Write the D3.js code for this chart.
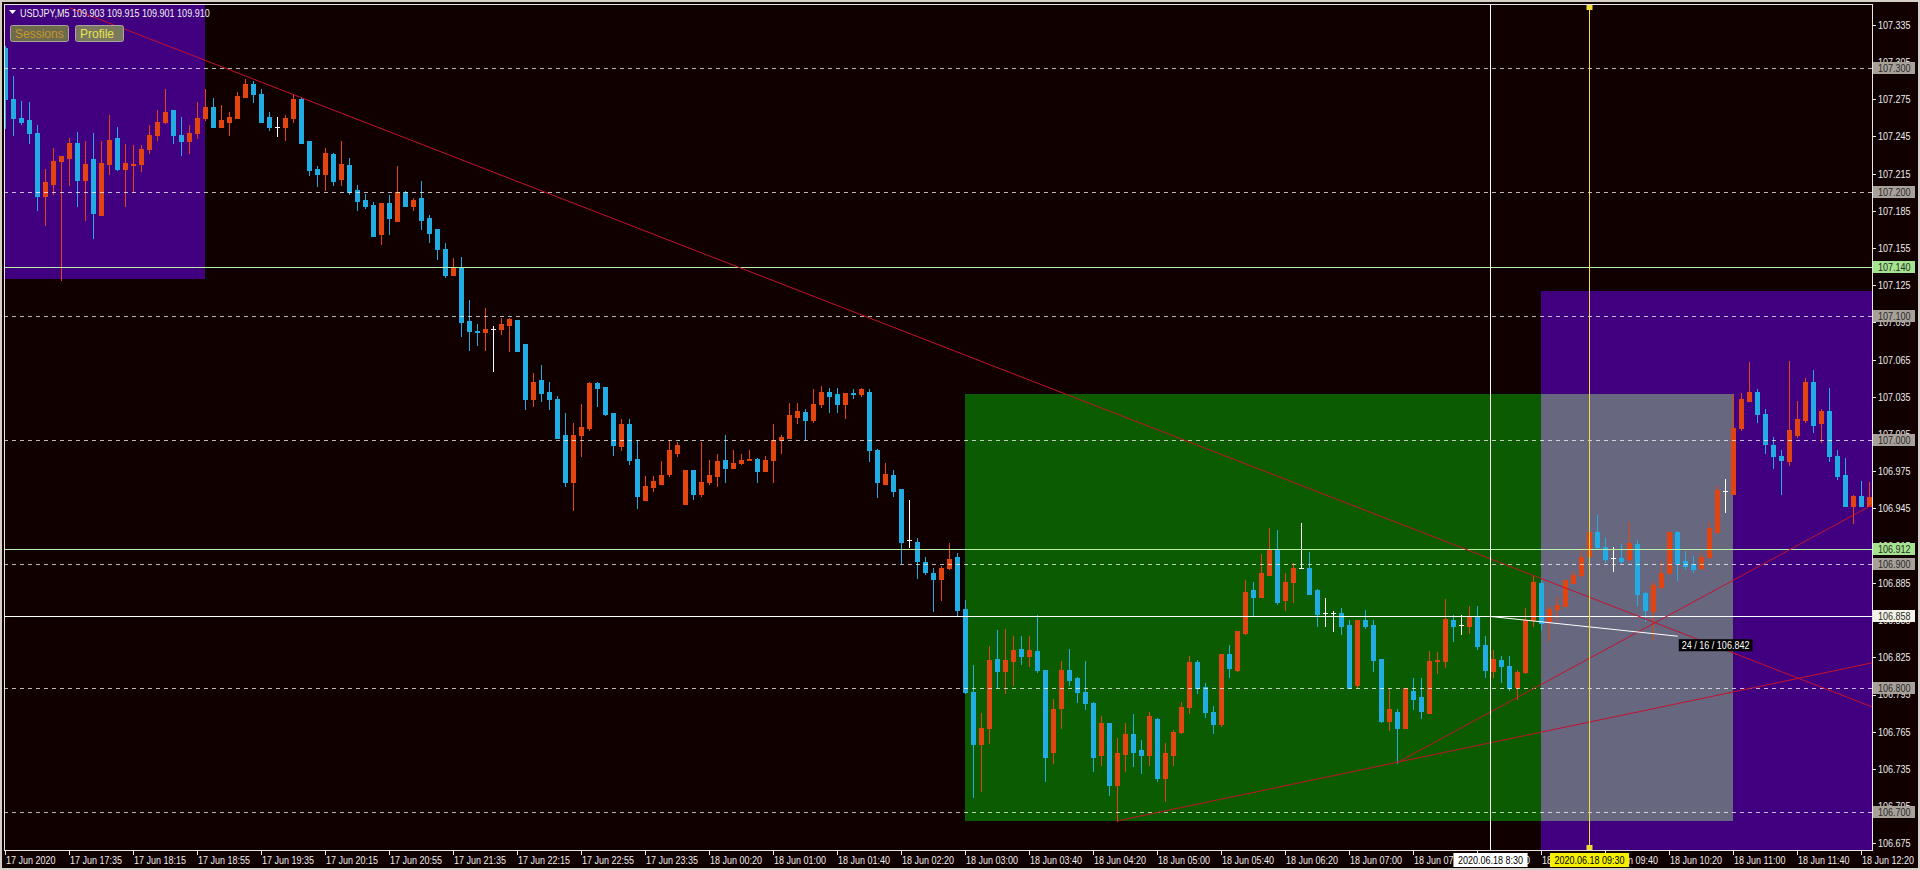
<!DOCTYPE html>
<html><head><meta charset="utf-8">
<script src="https://cdn.jsdelivr.net/npm/d3@7"></script>
<style>
html,body{margin:0;padding:0;background:#d4d0c8;overflow:hidden}
svg{display:block}
text{font-family:"Liberation Sans",Arial,sans-serif;font-size:11px}
</style></head><body><svg id="c" width="1920" height="870"></svg>
<script>
// ---- data (M5 bars, index 0 = 17 Jun 16:55) ----
const opens=[107.316,107.275,107.260,107.258,107.248,107.197,107.207,107.225,107.228,107.240,
107.210,107.227,107.182,107.223,107.244,107.219,107.222,107.223,107.235,107.246,
107.257,107.266,107.246,107.241,107.248,107.260,107.269,107.253,107.257,107.260,
107.277,107.287,107.279,107.261,107.253,107.253,107.260,107.275,107.241,107.219,
107.215,107.231,107.211,107.222,107.202,107.194,107.190,107.166,107.191,107.177,
107.200,107.189,107.195,107.179,107.170,107.154,107.133,107.140,107.096,107.088,
107.087,107.090,107.090,107.093,107.097,107.078,107.033,107.049,107.039,107.033,
107.004,106.966,107.004,107.010,107.046,107.043,107.022,106.995,107.013,106.985,
106.952,106.962,106.965,106.973,106.990,106.949,106.976,106.957,106.966,106.971,
106.984,106.978,106.982,106.984,106.985,106.975,106.984,107.000,107.002,107.019,
107.023,107.016,107.029,107.039,107.037,107.029,107.038,107.037,107.039,106.992,
106.965,106.972,106.961,106.920,106.918,106.902,106.893,106.888,106.897,106.906,
106.864,106.797,106.755,106.768,106.824,106.814,106.822,106.832,106.826,106.830,
106.815,106.749,106.784,106.815,106.808,106.797,106.788,106.746,106.772,106.722,
106.747,106.763,106.750,106.746,106.775,106.728,106.746,106.765,106.785,106.821,
106.801,106.781,106.771,106.828,106.815,106.845,106.879,106.874,106.891,106.912,
106.871,106.886,106.897,106.897,106.879,106.861,106.861,106.861,106.851,106.803,
106.855,106.851,106.824,106.774,106.781,106.768,106.798,106.793,106.780,106.822,
106.822,106.855,106.851,106.850,106.858,106.835,106.814,106.823,106.818,106.801,
106.813,106.855,106.885,106.854,106.864,106.866,106.885,106.891,106.907,106.926,
106.914,106.905,106.905,106.904,106.916,106.877,106.862,106.882,106.893,106.926,
106.903,106.900,106.897,106.906,106.926,106.959,106.957,107.010,107.032,107.039,
107.021,106.996,106.987,106.983,107.004,107.016,107.047,107.014,107.024,106.987,
106.972,106.947,106.955,106.947];
const highs=[107.318,107.294,107.274,107.273,107.254,107.219,107.236,107.229,107.244,107.249,
107.241,107.248,107.241,107.262,107.253,107.239,107.238,107.238,107.254,107.266,
107.283,107.266,107.261,107.254,107.273,107.283,107.276,107.270,107.265,107.281,
107.291,107.290,107.283,107.265,107.261,107.262,107.279,107.277,107.241,107.221,
107.236,107.232,107.241,107.228,107.206,107.199,107.192,107.191,107.198,107.221,
107.201,107.195,107.209,107.182,107.170,107.159,107.147,107.148,107.113,107.094,
107.107,107.092,107.099,107.099,107.097,107.078,107.054,107.061,107.047,107.036,
107.022,107.014,107.029,107.047,107.047,107.043,107.022,107.017,107.017,107.000,
106.971,106.971,106.983,107.000,106.999,106.976,106.976,106.999,106.984,106.989,
107.004,106.992,106.989,106.992,106.986,106.987,107.013,107.004,107.030,107.030,
107.025,107.041,107.044,107.042,107.042,107.038,107.041,107.042,107.041,106.993,
106.982,106.976,106.961,106.952,106.921,106.906,106.897,106.899,106.917,106.909,
106.871,106.819,106.780,106.834,106.847,106.848,106.842,106.842,106.842,106.859,
106.815,106.791,106.822,106.832,106.809,106.822,106.789,106.778,106.772,106.760,
106.772,106.779,106.758,106.781,106.776,106.756,106.766,106.789,106.826,106.823,
106.804,106.786,106.828,106.835,106.846,106.887,106.886,106.908,106.929,106.928,
106.893,106.901,106.933,106.910,106.880,106.873,106.862,106.865,106.855,106.855,
106.863,106.855,106.824,106.800,106.783,106.800,106.808,106.808,106.830,106.829,
106.872,106.859,106.859,106.866,106.866,106.842,106.831,106.826,106.826,106.815,
106.865,106.891,106.887,106.866,106.874,106.887,106.895,106.913,106.926,106.940,
106.921,106.914,106.916,106.934,106.920,106.878,106.886,106.902,106.926,106.927,
106.911,106.907,106.909,106.934,106.963,106.969,107.037,107.038,107.063,107.041,
107.025,107.003,106.992,107.064,107.032,107.050,107.057,107.025,107.042,106.992,
106.986,106.956,106.967,106.966];
const lows=[107.252,107.246,107.255,107.240,107.186,107.174,107.199,107.129,107.206,107.189,
107.178,107.163,107.182,107.215,107.218,107.189,107.200,107.217,107.232,107.242,
107.256,107.240,107.230,107.232,107.244,107.258,107.253,107.253,107.246,107.260,
107.277,107.273,107.257,107.250,107.245,107.242,107.257,107.240,107.214,107.205,
107.202,107.206,107.206,107.199,107.186,107.187,107.165,107.158,107.166,107.177,
107.189,107.186,107.170,107.160,107.146,107.132,107.133,107.084,107.073,107.077,
107.073,107.056,107.086,107.072,107.072,107.025,107.028,107.032,107.025,107.002,
106.963,106.944,106.987,107.008,107.028,107.020,106.988,106.992,106.981,106.945,
106.952,106.959,106.965,106.971,106.987,106.949,106.953,106.955,106.965,106.963,
106.966,106.978,106.981,106.984,106.966,106.975,106.966,106.990,107.002,107.014,
107.000,107.015,107.027,107.023,107.023,107.018,107.034,107.036,106.983,106.954,
106.965,106.955,106.901,106.914,106.889,106.892,106.862,106.871,106.896,106.858,
106.796,106.712,106.717,106.756,106.801,106.796,106.803,106.820,106.818,106.813,
106.725,106.740,106.768,106.803,106.789,106.783,106.733,106.738,106.714,106.693,
106.733,106.737,106.732,106.738,106.725,106.709,106.738,106.764,106.780,106.796,
106.777,106.764,106.770,106.809,106.814,106.844,106.859,106.874,106.891,106.868,
106.863,106.870,106.897,106.876,106.850,106.850,106.846,106.844,106.800,106.801,
106.849,106.814,106.773,106.766,106.740,106.768,106.783,106.776,106.780,106.812,
106.817,106.838,106.844,106.845,106.832,106.809,106.809,106.805,106.799,106.791,
106.812,106.850,106.848,106.839,106.855,106.866,106.885,106.890,106.907,106.913,
106.902,106.895,106.901,106.903,106.867,106.854,106.840,106.881,106.893,106.887,
106.896,106.894,106.896,106.905,106.926,106.942,106.957,107.008,107.032,107.015,
106.990,106.978,106.957,106.980,107.003,107.015,107.007,106.999,106.983,106.969,
106.947,106.933,106.947,106.947];
const closes=[107.275,107.260,107.257,107.248,107.197,107.208,107.225,107.229,107.240,107.210,
107.223,107.183,107.224,107.242,107.219,107.224,107.223,107.235,107.246,107.257,
107.265,107.246,107.241,107.248,107.260,107.269,107.253,107.258,107.261,107.278,
107.287,107.279,107.257,107.253,107.253,107.260,107.275,107.240,107.218,107.215,
107.232,107.209,107.223,107.200,107.193,107.189,107.165,107.191,107.179,107.200,
107.189,107.194,107.178,107.167,107.154,107.133,107.140,107.095,107.088,107.087,
107.090,107.090,107.094,107.098,107.072,107.033,107.047,107.038,107.033,107.002,
106.966,107.004,107.011,107.046,107.042,107.021,106.996,107.013,106.984,106.955,
106.963,106.967,106.972,106.992,106.996,106.976,106.957,106.966,106.972,106.983,
106.978,106.982,106.984,106.985,106.975,106.984,107.000,107.003,107.020,107.024,
107.016,107.029,107.039,107.036,107.029,107.038,107.037,107.041,106.992,106.966,
106.973,106.959,106.918,106.920,106.903,106.894,106.888,106.897,106.904,106.863,
106.797,106.755,106.768,106.823,106.814,106.823,106.831,106.826,106.831,106.815,
106.745,106.783,106.815,106.807,106.797,106.788,106.745,106.772,106.722,106.748,
106.763,106.749,106.746,106.778,106.728,106.748,106.765,106.785,106.821,106.800,
106.781,106.771,106.828,106.816,106.846,106.878,106.874,106.893,106.912,106.870,
106.886,106.897,106.897,106.876,106.860,106.861,106.861,106.850,106.800,106.855,
106.850,106.823,106.774,106.783,106.768,106.800,106.791,106.782,106.822,106.823,
106.856,106.850,106.851,106.858,106.834,106.815,106.824,106.818,106.800,106.813,
106.855,106.886,106.853,106.864,106.867,106.887,106.891,106.906,106.926,106.914,
106.904,106.905,106.903,106.917,106.876,106.863,106.883,106.893,106.926,106.901,
106.899,106.896,106.906,106.929,106.960,106.959,107.010,107.033,107.039,107.021,
106.997,106.987,106.984,107.008,107.017,107.047,107.012,107.024,106.987,106.971,
106.947,106.955,106.947,106.954];

const timeLabels=["17 Jun 2020","17 Jun 17:35","17 Jun 18:15","17 Jun 18:55","17 Jun 19:35","17 Jun 20:15",
"17 Jun 20:55","17 Jun 21:35","17 Jun 22:15","17 Jun 22:55","17 Jun 23:35","18 Jun 00:20","18 Jun 01:00",
"18 Jun 01:40","18 Jun 02:20","18 Jun 03:00","18 Jun 03:40","18 Jun 04:20","18 Jun 05:00","18 Jun 05:40",
"18 Jun 06:20","18 Jun 07:00","18 Jun 07:40","18 Jun 08:20","18 Jun 09:00","18 Jun 09:40","18 Jun 10:20",
"18 Jun 11:00","18 Jun 11:40","18 Jun 12:20"];
const barsPerLabel=8;
const priceTicks=[107.335,107.305,107.275,107.245,107.215,107.185,107.155,107.125,107.095,107.065,107.035,
107.005,106.975,106.945,106.915,106.885,106.855,106.825,106.795,106.765,106.735,106.705,106.675];
const dashedLevels=[107.300,107.200,107.100,107.000,106.900,106.800,106.700];
const greenLevels=[107.140,106.912];
const whiteLevels=[106.858];
// rectangles: [startBar, endBar, topPrice, bottomPrice]
const sessionRects=[[-2,25,107.40,107.130],[192,240,107.120,106.60]];
const greenRect=[120,192,107.037,106.693];
const greyRect=[192,216,107.037,106.693];
// trend lines: [bar1, price1, bar2, price2]
const trendLines=[[8,107.349,233,106.786],[139,106.693,233,106.820],[174,106.740,233,106.9465]];
const measureLine=[185.6,106.858,209.1,106.842];
const measureText="24 / 16 / 106.842";
const crossBar=185.6, crossLabel="2020.06.18 8:30";
const markBar=198, markLabel="2020.06.18 09:30";
const header="USDJPY,M5  109.903 109.915 109.901 109.910";

// ---- drawing ----
const svg=d3.select('#c');
const L=4,R=1872,T=4,B=850;
const SX=0.82; // horizontal squeeze to mimic the narrow terminal font
const x=d3.scaleLinear().domain([0,233]).range([5,1869]);
const y=d3.scaleLinear().domain([106.6696,107.35185]).range([B,T]);
const BG="#110000", BULL="#e2450f", BEAR="#21ade3", DOJI="#ffffff", RED="#c4122c";
const tr=(a,b)=>`translate(${a},${b}) scale(${SX},1)`;

svg.append('rect').attr('width',1920).attr('height',870).attr('fill','#d4d0c8');
svg.append('rect').attr('x',2).attr('y',2).attr('width',1916).attr('height',866).attr('fill',BG);

svg.append('clipPath').attr('id','pc').append('rect').attr('x',L).attr('y',T).attr('width',R-L).attr('height',B-T);
const plot=svg.append('g').attr('clip-path','url(#pc)');

function rect(g,r,fill){
  const x0=x(r[0]),x1=x(r[1]),y0=y(r[2]),y1=y(r[3]);
  g.append('rect').attr('x',Math.round(x0)).attr('y',Math.round(y0))
   .attr('width',Math.round(x1)-Math.round(x0)).attr('height',Math.round(y1)-Math.round(y0)).attr('fill',fill);
}
sessionRects.forEach(r=>rect(plot,r,'#40007f'));
rect(plot,greenRect,'#0b5c00');
rect(plot,greyRect,'#676780');

// candles
const cg=plot.append('g');
const bars=d3.range(opens.length).map(i=>({i,o:opens[i],h:highs[i],l:lows[i],c:closes[i]}));
const col=d=>d.c>d.o?BULL:(d.c<d.o?BEAR:DOJI);
cg.selectAll('line.w').data(bars).join('line').attr('class','w')
  .attr('x1',d=>Math.round(x(d.i))+0.5).attr('x2',d=>Math.round(x(d.i))+0.5)
  .attr('y1',d=>Math.round(y(d.h))).attr('y2',d=>Math.round(y(d.l))+1)
  .attr('stroke',col).attr('stroke-width',1);
cg.selectAll('rect.b').data(bars.filter(d=>d.c!==d.o)).join('rect').attr('class','b')
  .attr('x',d=>Math.round(x(d.i))-2).attr('width',5)
  .attr('y',d=>Math.round(y(Math.max(d.o,d.c))))
  .attr('height',d=>Math.max(1,Math.round(y(Math.min(d.o,d.c)))-Math.round(y(Math.max(d.o,d.c)))+1))
  .attr('fill',col);
cg.selectAll('line.d').data(bars.filter(d=>d.c===d.o)).join('line').attr('class','d')
  .attr('x1',d=>Math.round(x(d.i))-2).attr('x2',d=>Math.round(x(d.i))+3)
  .attr('y1',d=>Math.round(y(d.o))+0.5).attr('y2',d=>Math.round(y(d.o))+0.5)
  .attr('stroke',DOJI);

// horizontal levels
const hy=p=>Math.round(y(p))+0.5;
plot.selectAll('line.dl').data(dashedLevels).join('line').attr('class','dl')
  .attr('x1',L).attr('x2',R).attr('y1',hy).attr('y2',hy)
  .attr('stroke','#ffffff').attr('stroke-opacity',0.72).attr('stroke-dasharray','4,4');
plot.selectAll('line.gl').data(greenLevels).join('line').attr('class','gl')
  .attr('x1',L).attr('x2',R).attr('y1',hy).attr('y2',hy).attr('stroke','#b8f0a8');
plot.selectAll('line.wl').data(whiteLevels).join('line').attr('class','wl')
  .attr('x1',L).attr('x2',R).attr('y1',hy).attr('y2',hy).attr('stroke','#ffffff');

// trend lines (rays to the right)
trendLines.forEach(t=>{
  const x1=x(t[0]),y1=y(t[1]),x2=x(t[2]),y2=y(t[3]);
  const s=(y2-y1)/(x2-x1);
  plot.append('line').attr('x1',x1).attr('y1',y1).attr('x2',R+20).attr('y2',y1+s*(R+20-x1))
   .attr('stroke',RED).attr('stroke-width',1);
});
// measure line
plot.append('line').attr('x1',x(measureLine[0])).attr('y1',y(measureLine[1]))
  .attr('x2',x(measureLine[2])).attr('y2',y(measureLine[3])).attr('stroke','#ffffff');

// vertical lines
const cx=Math.round(x(crossBar))+0.5;
plot.append('line').attr('x1',cx).attr('x2',cx).attr('y1',T).attr('y2',B).attr('stroke','#ffffff');
const mx=Math.round(x(markBar))+0.5;
const YEL="#efdc3a";
plot.append('line').attr('x1',mx).attr('x2',mx).attr('y1',T).attr('y2',B).attr('stroke',YEL);
plot.append('rect').attr('x',mx-3).attr('y',T+1).attr('width',6).attr('height',5).attr('fill',YEL);
plot.append('rect').attr('x',mx-3).attr('y',B-5).attr('width',6).attr('height',5).attr('fill',YEL);

// plot border
svg.append('rect').attr('x',L+0.5).attr('y',T+0.5).attr('width',R-L).attr('height',B-T)
  .attr('fill','none').attr('stroke','#e6e6e6');

// price axis
const pa=svg.append('g');
pa.selectAll('line').data(priceTicks).join('line')
  .attr('x1',R).attr('x2',R+4).attr('y1',hy).attr('y2',hy).attr('stroke','#e6e6e6');
pa.selectAll('text').data(priceTicks).join('text')
  .attr('transform',d=>tr(R+6,y(d))).attr('dy','0.36em').attr('fill','#ececec').text(d=>d.toFixed(3));

// time axis
const ta=svg.append('g');
const tl=timeLabels.map((s,k)=>({s,i:k*barsPerLabel}));
ta.selectAll('line').data(tl).join('line')
  .attr('x1',d=>Math.round(x(d.i))+0.5).attr('x2',d=>Math.round(x(d.i))+0.5)
  .attr('y1',B).attr('y2',B+5).attr('stroke','#e6e6e6');
ta.selectAll('text').data(tl).join('text')
  .attr('transform',d=>tr(Math.round(x(d.i))+1,B+14)).attr('fill','#ececec').text(d=>d.s);

// price boxes
function pbox(p,fill){
  const yy=Math.round(y(p));
  svg.append('rect').attr('x',R+1).attr('y',yy-6).attr('width',42).attr('height',12).attr('fill',fill);
  svg.append('text').attr('transform',tr(R+6,yy)).attr('dy','0.36em').attr('fill','#2a2a2a').text(p.toFixed(3));
}
dashedLevels.forEach(p=>pbox(p,'#a8a199'));
greenLevels.forEach(p=>pbox(p,'#a4e48e'));
whiteLevels.forEach(p=>pbox(p,'#f4f2e6'));

// time boxes
function tbox(cxp,label,fill){
  const r=svg.append('rect').attr('y',B+3).attr('height',14).attr('fill',fill);
  const t=svg.append('text').attr('transform',tr(cxp,B+14)).attr('text-anchor','middle').attr('fill','#000').text(label);
  const w=t.node().getComputedTextLength()*SX+9;
  r.attr('x',cxp-w/2).attr('width',w);
}
tbox(cx,crossLabel,'#ffffff');
tbox(mx,markLabel,'#f4f000');

// measure label
const lx=x(measureLine[2]);
const ly=y(measureLine[3]);
const mr=svg.append('rect').attr('x',lx+1).attr('y',ly+3).attr('height',12).attr('fill','#000');
const mt=svg.append('text').attr('transform',tr(lx+4,ly+9)).attr('dy','0.36em').attr('fill','#ffffff').text(measureText);
mr.attr('width',mt.node().getComputedTextLength()*SX+6);

// header
svg.append('path').attr('d','M9,10 L16,10 L12.5,14 Z').attr('fill','#ffffff');
svg.append('text').attr('transform',tr(20,16.5)).attr('fill','#f0f0f0').text(header);
function btn(x0,w,label,bg,fg){
  svg.append('rect').attr('x',x0+0.5).attr('y',25.5).attr('width',w).attr('height',16).attr('rx',2)
    .attr('fill',bg).attr('stroke','#a8a69c');
  svg.append('text').attr('x',x0+5).attr('y',38).attr('fill',fg).style('font-size','12px').text(label);
}
btn(10,58,'Sessions','#6e6a4c','#c8962a');
btn(75,48,'Profile','#7a785f','#e8e44a');
</script></body></html>
